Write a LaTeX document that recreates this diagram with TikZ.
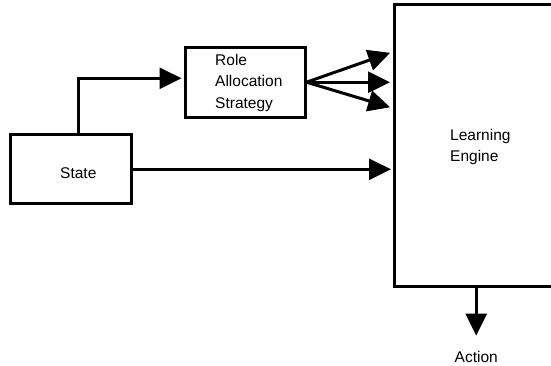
\documentclass[tikz,border=0pt]{standalone}
\usepackage{fontspec}
\setmainfont{Liberation Sans}
\usetikzlibrary{arrows.meta}

\begin{document}
\begin{tikzpicture}[x=1pt, y=-1pt,
    box/.style={draw, line width=3pt, inner sep=0pt},
    flow/.style={line width=3pt, -{Triangle[length=22pt, width=21pt]}},
    txt/.style={font=\fontsize{15.5pt}{21.5pt}\selectfont, inner sep=0pt}]

  \useasboundingbox (0,0) rectangle (551,365);
  \clip (0,0) rectangle (551,365);

  % boxes (the engine runs off the right side)
  \node[box, minimum width=121pt, minimum height=69pt]   (state)  at (70.5,169.3) {};
  \node[box, minimum width=120pt, minimum height=70pt]   (ras)    at (245,82.2)   {};
  \node[box, minimum width=226pt, minimum height=281.6pt] (engine) at (507,145.5) {};

  % texts
  \node[txt, anchor=base] (statetext) at (78.3,178) {State};
  \node[txt, anchor=west, align=left] (rastext) at (215,82.5)
       {Role\\Allocation\\Strategy};
  \node[txt, anchor=west, align=left] (enginetext) at (450,147)
       {Learning\\Engine};
  \node[txt, anchor=base] (action) at (476.2,362) {Action};

  % state to strategy
  \draw[flow, shorten >=2pt] ([xshift=7.8pt]state.north) |- ([yshift=3.9pt]ras.west);

  % strategy to engine
  \foreach \y in {52,82.2,108}
    \draw[flow, shorten >=2.5pt] (ras.east) -- (engine.west |- 0,\y);

  % state to engine
  \draw[flow, shorten >=1.5pt] (state.east) -- (engine.west |- state.east);

  % engine output
  \draw[flow, shorten >=15pt] ([xshift=-30.8pt]engine.south) -- (action);

\end{tikzpicture}
\end{document}
